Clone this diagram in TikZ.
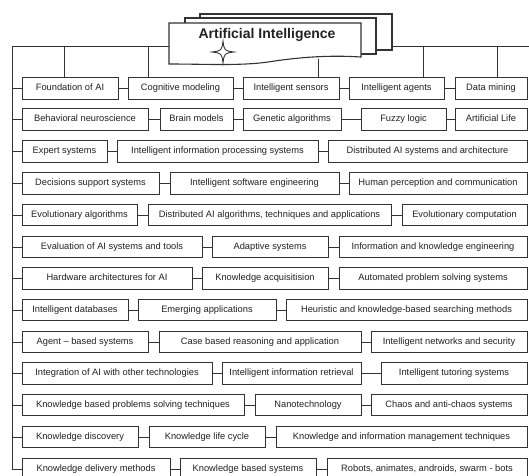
\documentclass[tikz,border=0pt]{standalone}
\usepackage{fontspec}
\setmainfont{Liberation Sans}
\definecolor{linec}{HTML}{333333}
\definecolor{txtc}{HTML}{222222}
\newcommand\bx[5]{\node[box, minimum width={#3-#2}] (#1) at ({(#2+#3)/2},#4) {#5};}
\begin{document}
\begin{tikzpicture}[x=1pt,y=-1pt,
  ln/.style={draw=linec, line width=1pt},
  box/.style={draw=linec, line width=1pt, fill=white, minimum height=21.5pt,
    inner sep=0pt, outer sep=0pt, text height=6.9pt, text depth=2pt,
    font=\fontsize{9.3}{10}\selectfont, text=txtc},
  sheet/.style={draw=linec, line width=1.1pt, fill=white}]
\useasboundingbox (0,0) rectangle (529,475);
\clip (0,0) rectangle (529,475);

% ---- top bus
\coordinate (TL) at (12,46);
\coordinate (TR) at (529,46);
\coordinate (docL) at (169,46);
\coordinate (docR) at (392,46);
\draw[ln] (TL) -- (docL);
\draw[ln] (docR) -- (TR);

% ---- title document stack
\draw[sheet] (200,14) rectangle (392,50);
\draw[sheet] (185,18) rectangle (376,54);
\draw[sheet] (169,23) -- (361,23) -- (361,57)
  .. controls (330,55) and (300,57) .. (268,62)
  .. controls (240,66) and (205,64) .. (169,64) -- cycle;
\node[font=\fontsize{14}{16}\selectfont\bfseries, text=txtc] (title) at (267,35) {Artificial Intelligence};
\draw[linec, line width=0.9pt, fill=white] (223,41) .. controls (224.3,50.7) .. (234,52)
  .. controls (224.3,53.3) .. (223,63) .. controls (221.7,53.3) .. (212,52)
  .. controls (221.7,50.7) .. (223,41) -- cycle;
\coordinate (docB) at (318,58.5);

% ---- boxes
\bx{r1a}{22}{118}{88.5}{Foundation of AI}
\bx{r1b}{128}{233}{88.5}{Cognitive modeling}
\bx{r1c}{243}{339}{88.5}{Intelligent sensors}
\bx{r1d}{349}{444}{88.5}{Intelligent agents}
\bx{r1e}{455}{527}{88.5}{Data mining}

\bx{r2a}{22}{148}{119.5}{Behavioral neuroscience}
\bx{r2b}{160}{233}{119.5}{Brain models}
\bx{r2c}{243}{341}{119.5}{Genetic algorithms}
\bx{r2d}{361}{446}{119.5}{Fuzzy logic}
\bx{r2e}{455}{527}{119.5}{Artificial Life}

\bx{r3a}{22}{107}{151.5}{Expert systems}
\bx{r3b}{117}{318}{151.5}{Intelligent information processing systems}
\bx{r3c}{328}{527}{151.5}{Distributed AI systems and architecture}

\bx{r4a}{22}{159}{183.5}{Decisions support systems}
\bx{r4b}{170}{339}{183.5}{Intelligent software engineering}
\bx{r4c}{349}{527}{183.5}{Human perception and communication}

\bx{r5a}{22}{137}{215}{Evolutionary algorithms}
\bx{r5b}{148}{391}{215}{Distributed AI algorithms, techniques and applications}
\bx{r5c}{402}{527}{215}{Evolutionary computation}

\bx{r6a}{22}{202}{247}{Evaluation of AI systems and tools}
\bx{r6b}{212}{328}{247}{Adaptive systems}
\bx{r6c}{339}{527}{247}{Information and knowledge engineering}

\bx{r7a}{22}{192}{278.5}{Hardware architectures for AI}
\bx{r7b}{202}{328}{278.5}{Knowledge acquisitision}
\bx{r7c}{339}{527}{278.5}{Automated problem solving systems}

\bx{r8a}{22}{128}{310}{Intelligent databases}
\bx{r8b}{138}{276}{310}{Emerging applications}
\bx{r8c}{286}{527}{310}{Heuristic and knowledge-based searching methods}

\bx{r9a}{22}{148}{342}{Agent -- based systems}
\bx{r9b}{159}{361}{342}{Case based reasoning and application}
\bx{r9c}{371}{527}{342}{Intelligent networks and security}

\bx{r10a}{22}{212}{373.5}{Integration of AI with other technologies}
\bx{r10b}{222}{361}{373.5}{Intelligent information retrieval}
\bx{r10c}{381}{527}{373.5}{Intelligent tutoring systems}

\bx{r11a}{22}{244}{405}{Knowledge based problems solving techniques}
\bx{r11b}{255}{361}{405}{Nanotechnology}
\bx{r11c}{371}{527}{405}{Chaos and anti-chaos systems}

\bx{r12a}{22}{138}{437}{Knowledge discovery}
\bx{r12b}{149}{265}{437}{Knowledge life cycle}
\bx{r12c}{276}{527}{437}{Knowledge and information management techniques}

\bx{r13a}{22}{170}{469}{Knowledge delivery methods}
\bx{r13b}{180}{316}{469}{Knowledge based systems}
\bx{r13c}{327}{527}{469}{Robots, animates, androids, swarm - bots}

% ---- drops from the top bus
\coordinate (d1) at (64,46);
\coordinate (d2) at (148,46);
\coordinate (d4) at (423,46);
\coordinate (d5) at (497,46);
\draw[ln] (d1) -- (d1 |- r1a.north);
\draw[ln] (d2) -- (d2 |- r1b.north);
\draw[ln] (docB) -- (docB |- r1c.north);
\draw[ln] (d4) -- (d4 |- r1d.north);
\draw[ln] (d5) -- (d5 |- r1e.north);

% ---- left spine
\coordinate (L13) at (12,469);
\draw[ln] (TL) -- (L13);
\foreach \r in {1,...,13}{
  \draw[ln] (r\r a.west) -- (TL |- r\r a.west);
}

% ---- row links
\draw[ln] (r1a) -- (r1b); \draw[ln] (r1b) -- (r1c); \draw[ln] (r1c) -- (r1d); \draw[ln] (r1d) -- (r1e);
\draw[ln] (r2a) -- (r2b); \draw[ln] (r2b) -- (r2c); \draw[ln] (r2c) -- (r2d); \draw[ln] (r2d) -- (r2e);
\foreach \r in {3,...,13}{
  \draw[ln] (r\r a) -- (r\r b);
  \draw[ln] (r\r b) -- (r\r c);
}
\end{tikzpicture}
\end{document}
